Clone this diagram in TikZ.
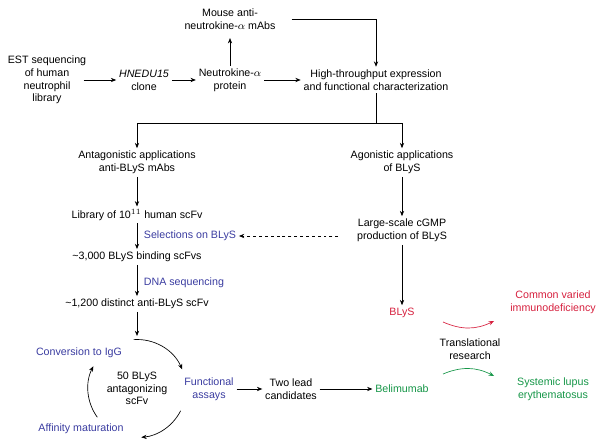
\documentclass[tikz,border=0pt]{standalone}
\usepackage{fontspec}
\setmainfont{Liberation Sans}
\usetikzlibrary{arrows.meta}
\definecolor{stepblue}{RGB}{58,60,160}
\definecolor{diseasered}{RGB}{214,32,62}
\definecolor{druggreen}{RGB}{22,150,72}
\tikzset{
  lbl/.style={align=center, inner sep=2pt, font=\fontsize{8}{9.6}\selectfont},
  arr/.style={-{Stealth[length=4pt,width=3.2pt]}, line width=0.5pt},
}

\begin{document}
\begin{tikzpicture}[x=0.75pt, y=-0.75pt]
                                    \useasboundingbox (0,0) rectangle (605,448);
                                    % discovery row
                                    \node[lbl] (est) at (47,80) {EST sequencing\\of human\\neutrophil\\library};
                                    \node[lbl] (clone) at (144,80) {\textit{HNEDU15}\\clone};
                                    \node[lbl] (protein) at (230,80) {Neutrokine-$\alpha$\\protein};
                                    \node[lbl] (mabs) at (230,19.5) {Mouse anti-\\neutrokine-$\alpha$ mAbs};
                                    \node[lbl] (hts) at (376,80) {High-throughput expression\\and functional characterization};
                                    \draw[arr, shorten <=-4pt] (est) -- (clone);
                                    \draw[arr] (clone) -- (protein);
                                    \draw[arr] (protein) -- (hts);
                                    \draw[arr, shorten >=4pt] (protein) -- (mabs);
                                    \draw[arr, shorten <=10pt] (mabs.east) -| (hts.north);
                                    % two branches
                                    \node[lbl] (antag) at (137,162.5) {Antagonistic applications\\anti-BLyS mAbs};
                                    \node[lbl] (agon) at (402,162.5) {Agonistic applications\\of BLyS};
                                    \coordinate (split) at (376,123);
                                    \draw (hts) -- (split);
                                    \draw[arr] (split) -| (antag);
                                    \draw[arr] (split) -| (agon);
                                    % antibody path
                                    \node[lbl] (library) at (137,215) {Library of 10$^{11}$ human scFv};
                                    \node[lbl] (binders) at (137,257) {\textasciitilde3,000 BLyS binding scFvs};
                                    \node[lbl] (distinct) at (137,304) {\textasciitilde1,200 distinct anti-BLyS scFv};
                                    \node[lbl, text=stepblue, anchor=west] (sel) at (141,236) {Selections on BLyS};
                                    \node[lbl, text=stepblue, anchor=west] (dnaseq) at (141,283) {DNA sequencing};
                                    \draw[arr] (antag) -- (library);
                                    \draw[arr] (library) -- (binders);
                                    \draw[arr] (binders) -- (distinct);
                                    % protein path
                                    \node[lbl] (prod) at (402,230.5) {Large-scale cGMP\\production of BLyS};
                                    \node[lbl, text=diseasered] (blys) at (402,313) {BLyS};
                                    \draw[arr] (agon) -- (prod);
                                    \draw[arr] (prod) -- (blys);
                                    \draw[arr, dashed, dash pattern=on 2.2pt off 2.2pt, shorten <=12pt] (prod.west |- sel.east) -- (sel.east);
                                    % optimisation cycle
                                    \node[lbl] (cycle) at (137,388.5) {50 BLyS\\antagonizing\\scFv};
                                    \node[lbl, text=stepblue] (convert) at (79,353) {Conversion to IgG};
                                    \node[lbl, text=stepblue] (assays) at (209,389) {Functional\\assays};
                                    \node[lbl, text=stepblue] (affinity) at (81,429) {Affinity maturation};
                                    \draw[arr] (distinct) -- ++(0,32);
                                    \draw[arr] (cycle.center) ++(-94:49) arc[start angle=-94, end angle=-23, radius=49];
                                    \draw[arr] (cycle.center) ++(27:49) arc[start angle=27, end angle=85, radius=49];
                                    \draw[arr] (cycle.center) ++(144:49) arc[start angle=144, end angle=207, radius=49];
                                    % clinical outcome
                                    \node[lbl] (leads) at (291,389) {Two lead\\candidates};
                                    \node[lbl, text=druggreen] (belimumab) at (402,389) {Belimumab};
                                    \draw[arr] (assays) -- (leads);
                                    \draw[arr] (leads) -- (belimumab);
                                    \node[lbl] (transl) at (470,349.5) {Translational\\research};
                                    \node[lbl, text=diseasered] (cvid) at (553,302.5) {Common varied\\immunodeficiency};
                                    \node[lbl, text=druggreen] (sle) at (553,389) {Systemic lupus\\erythematosus};
                                    \coordinate (redA) at (443,322);
                                    \coordinate (redB) at (494,321);
                                    \coordinate (greenA) at (443,374);
                                    \coordinate (greenB) at (494,376);
                                    \draw[arr, diseasered] (redA) to[bend right=25] (redB);
                                    \draw[arr, druggreen] (greenA) to[bend left=25] (greenB);
                                \end{tikzpicture}
\end{document}
